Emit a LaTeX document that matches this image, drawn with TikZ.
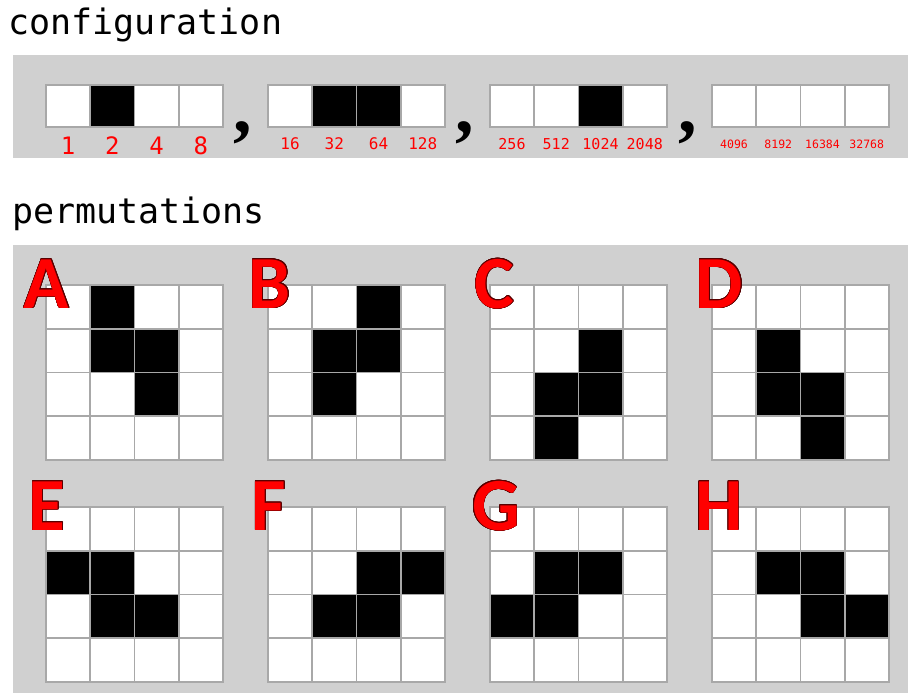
\documentclass[tikz,border=0pt]{standalone}
\usepackage{fontspec}
\setmonofont{DejaVu Sans Mono}
\newfontfamily\letterfont{Carlito}
\newfontfamily\commafont{Liberation Serif}
\usepackage{contour}
\contourlength{0.45pt}
\definecolor{panelgray}{RGB}{208,208,208}
\definecolor{cellgray}{RGB}{168,168,168}

\begin{document}
\begin{tikzpicture}[x=1pt,y=-1pt,
    cell/.style={draw=cellgray,line width=1.6pt,fill=white},
    oncell/.style={cell,fill=black},
    title/.style={anchor=base west,inner sep=0,font=\ttfamily\fontsize{35}{35}\selectfont},
    weight/.style={text=red,inner sep=0,font=\ttfamily\fontsize{#1}{#1}\selectfont},
    tag/.style={text=red,inner sep=0,font=\letterfont\bfseries\fontsize{75}{75}\selectfont}]
  \useasboundingbox (0,0) rectangle (908,693);
  \fill[white] (0,0) rectangle (908,693);

  % configuration
  \node[title] (config) at (8,35) {configuration};
  \fill[panelgray] (13,55) rectangle (908,158);
  \foreach \g in {0,...,3}
    \foreach \c in {0,...,3}
      \draw[cell] ({46+222*\g+44.25*\c},85) rectangle ++(44.25,42);
  \foreach \g/\c in {0/1,1/1,1/2,2/2}
    \draw[oncell] ({46+222*\g+44.25*\c},85) rectangle ++(44.25,42);
  \foreach \v [count=\i from 0] in {1,2,4,8}
    \node[weight=24] (w\v) at ({68+44.25*\i},146) {\v};
  \foreach \v [count=\i from 0] in {16,32,64,128}
    \node[weight=16] (w\v) at ({290+44.25*\i},144) {\v};
  \foreach \v [count=\i from 0] in {256,512,1024,2048}
    \node[weight=15] (w\v) at ({512+44.25*\i},144) {\v};
  \foreach \v [count=\i from 0] in {4096,8192,16384,32768}
    \node[weight=11.5] (w\v) at ({734+44.25*\i},144) {\v};
  \foreach \x [count=\i] in {243,465,688}
    \node[anchor=base,inner sep=0,font=\commafont\bfseries\fontsize{74}{74}\selectfont] (comma\i) at (\x,132) {,};

  % permutations
  \node[title] (perm) at (12,223) {permutations};
  \fill[panelgray] (13,245) rectangle (908,693);
  \foreach \g [count=\k from 0] in {0,...,7} {
    \pgfmathsetmacro\gx{46+222*mod(\k,4)}
    \pgfmathsetmacro\gy{\k<4 ? 285 : 507}
    \foreach \r in {0,...,3}
      \foreach \c in {0,...,3}
        \draw[cell] ({\gx+44.25*\c},{\gy+43.75*\r}) rectangle ++(44.25,43.75);
  }
  \foreach \k/\cells in {0/{0/1,1/1,1/2,2/2},1/{0/2,1/1,1/2,2/1},2/{1/2,2/1,2/2,3/1},3/{1/1,2/1,2/2,3/2},
      4/{1/0,1/1,2/1,2/2},5/{1/2,1/3,2/1,2/2},6/{1/1,1/2,2/0,2/1},7/{1/1,1/2,2/2,2/3}} {
    \pgfmathsetmacro\gx{46+222*mod(\k,4)}
    \pgfmathsetmacro\gy{\k<4 ? 285 : 507}
    \foreach \r/\c in \cells
      \draw[oncell] ({\gx+44.25*\c},{\gy+43.75*\r}) rectangle ++(44.25,43.75);
  }
  \foreach \t/\x/\y in {A/46.5/284,B/270/284,C/494.5/284,D/719.5/284,E/47/506,F/269/506,G/496/506,H/719/506}
    \node[tag] (tag\t) at (\x,\y) {\contour{red!35!black}{\t}};
\end{tikzpicture}
\end{document}
